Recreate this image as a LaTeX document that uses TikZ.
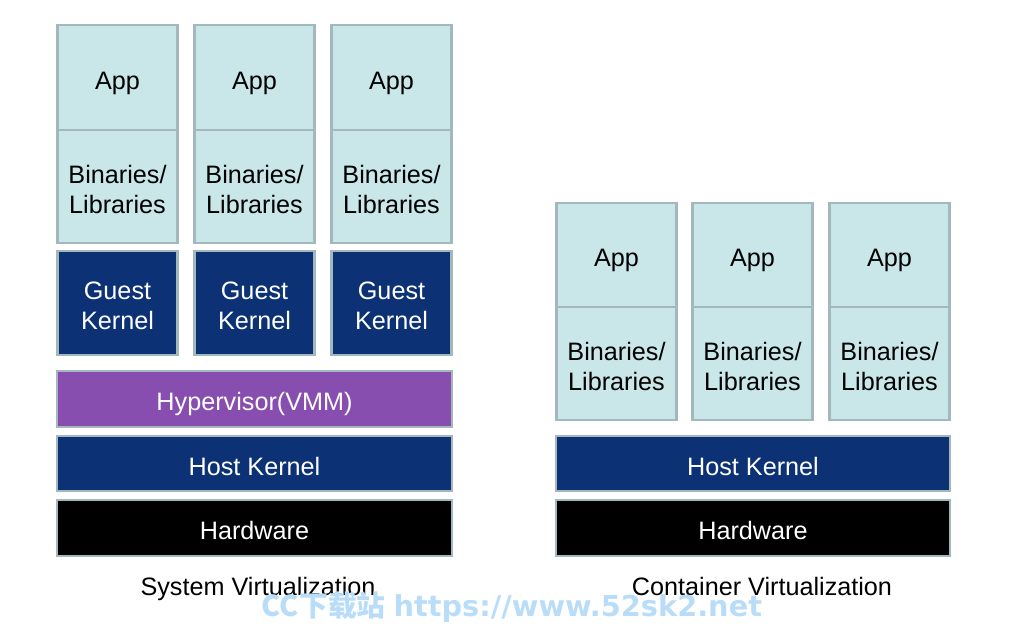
\documentclass[tikz,border=0pt]{standalone}
\usepackage{fontspec}
\setmainfont{Liberation Sans}
\newfontfamily\cjkfont{Noto Sans CJK SC}
\newfontfamily\markfont{DejaVu Sans}
\usetikzlibrary{calc}

\definecolor{boxedge}{HTML}{A2B8BC}
\definecolor{appfill}{HTML}{C9E7E9}
\definecolor{kernelfill}{HTML}{0C3275}
\definecolor{vmmfill}{HTML}{874DAF}
\definecolor{markblue}{HTML}{B9DDF9}

% taller first line, so two-line labels sit a little lower
\newcommand{\upstrut}{\rule{0pt}{12pt}}

\tikzset{
  layer/.style={draw=boxedge, line width=1.2pt, inner sep=0pt, align=center,
    font=\fontsize{12.6}{15}\selectfont},
  oneline/.style={text height=11.5pt, text depth=0pt},
  userbox/.style={layer, fill=appfill, text=black, minimum width=60pt},
  kernelbox/.style={layer, fill=kernelfill, text=white},
  caption/.style={oneline, font=\fontsize{12.6}{15}\selectfont}
}

\begin{document}
\begin{tikzpicture}[x=0.5pt, y=-0.5pt]
    \useasboundingbox (0, 0) rectangle (1024, 637);

    % system virtualization
    \node [userbox, oneline, minimum height=52.5pt] (app1) at (117.5, 77.5) {App};
    \node [userbox, oneline, minimum height=52.5pt] (app2) at (254.5, 77.5) {App};
    \node [userbox, oneline, minimum height=52.5pt] (app3) at (391.5, 77.5) {App};
    \node [userbox, minimum height=56.5pt] (bin1) at (117.5, 186.5) {\upstrut Binaries/\\Libraries};
    \node [userbox, minimum height=56.5pt] (bin2) at (254.5, 186.5) {\upstrut Binaries/\\Libraries};
    \node [userbox, minimum height=56.5pt] (bin3) at (391.5, 186.5) {\upstrut Binaries/\\Libraries};
    \node [kernelbox, minimum width=60pt, minimum height=52pt] (guest1) at (117.5, 303) {\upstrut Guest\\Kernel};
    \node [kernelbox, minimum width=60pt, minimum height=52pt] (guest2) at (254.5, 303) {\upstrut Guest\\Kernel};
    \node [kernelbox, minimum width=60pt, minimum height=52pt] (guest3) at (391.5, 303) {\upstrut Guest\\Kernel};
    \node [layer, oneline, fill=vmmfill, text=white, minimum width=197.5pt, minimum height=28pt] (vmm) at (254.5, 399) {Hypervisor(VMM)};
    \node [kernelbox, oneline, minimum width=197.5pt, minimum height=27.5pt] (host1) at (254.5, 463.5) {Host Kernel};
    \node [layer, oneline, fill=black, text=white, minimum width=197.5pt, minimum height=28pt] (hw1) at (254.5, 528) {Hardware};
    \node [caption] (sys) at (258, 583.5) {System Virtualization};

    % container virtualization
    \node [userbox, oneline, minimum height=52pt] (app4) at (616.5, 255) {App};
    \node [userbox, oneline, minimum height=52pt] (app5) at (752.5, 255) {App};
    \node [userbox, oneline, minimum height=52pt] (app6) at (889.5, 255) {App};
    \node [userbox, minimum height=56.5pt] (bin4) at (616.5, 363.5) {\upstrut Binaries/\\Libraries};
    \node [userbox, minimum height=56.5pt] (bin5) at (752.5, 363.5) {\upstrut Binaries/\\Libraries};
    \node [userbox, minimum height=56.5pt] (bin6) at (889.5, 363.5) {\upstrut Binaries/\\Libraries};
    \node [kernelbox, oneline, minimum width=197pt, minimum height=27.5pt] (host2) at (753, 463.5) {Host Kernel};
    \node [layer, oneline, fill=black, text=white, minimum width=197pt, minimum height=28pt] (hw2) at (753, 528) {Hardware};
    \node [caption] (cont) at (762, 583.5) {Container Virtualization};

    % watermark
    \node [text=markblue, font=\fontsize{14.4}{17}\selectfont\bfseries] (mark) at (512, 607)
      {{\cjkfont CC下载站} {\markfont https://www.52sk2.net}};
\end{tikzpicture}
\end{document}
